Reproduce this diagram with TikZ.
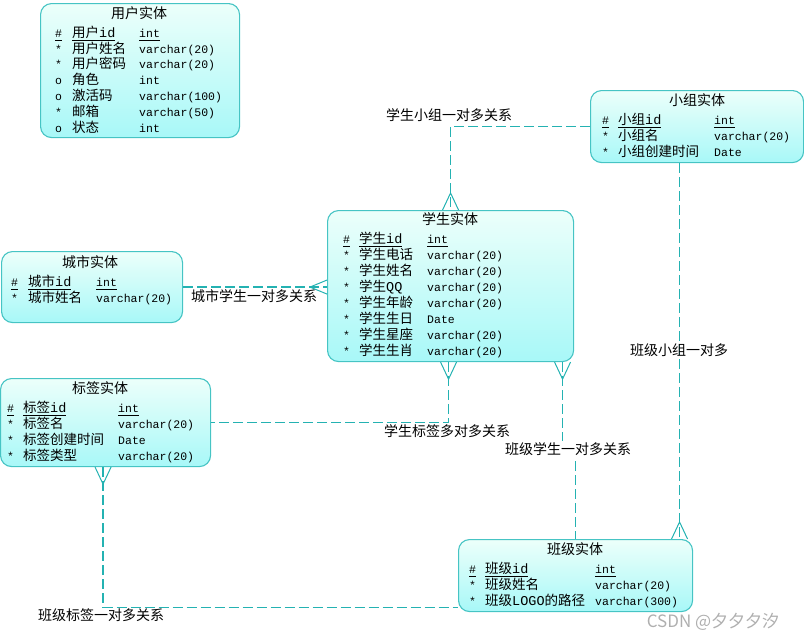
\documentclass[tikz,border=0pt]{standalone}
\usepackage{fontspec}
\setmainfont{Liberation Sans}
\newfontfamily\cjk{Noto Sans CJK SC}
\newfontfamily\mono{Liberation Mono}
\usetikzlibrary{calc}

\definecolor{boxedge}{RGB}{70,196,196}
\definecolor{boxtop}{RGB}{236,255,250}
\definecolor{boxbot}{RGB}{168,248,248}
\definecolor{linkc}{RGB}{36,178,178}
\definecolor{wmgray}{RGB}{175,175,175}

\tikzset{
  entity/.style={draw=boxedge, line width=1.1pt, rounded corners=11pt,
    top color=boxtop, bottom color=boxbot, anchor=north west, inner sep=0pt},
  ttl/.style={font=\cjk\fontsize{14}{14}\selectfont, inner sep=0pt},
  fmark/.style={font=\mono\fontsize{11.5}{12}\selectfont, inner sep=0pt, anchor=base west},
  fname/.style={font=\cjk\fontsize{13.5}{14}\selectfont, inner sep=0pt, anchor=base west},
  ftype/.style={font=\mono\fontsize{11.5}{12}\selectfont, inner sep=0pt, anchor=base west},
  rel/.style={draw=linkc, line width=1.2pt, dash pattern=on 10pt off 4pt},
  foot/.style={draw=linkc, line width=1pt},
  lbl/.style={font=\cjk\fontsize{14}{14}\selectfont, inner sep=1pt},
}

% underline for key fields
\newcommand\ul[1]{\underline{#1\vrule width 0pt depth 1.5pt}}
\newcommand\asc[1]{{\mono #1}}
% one attribute row: name, row centre, mark, field, type
\newcommand\erow[5]{%
  \node[fmark] (#1-m) at (\xm,#2+5) {#3};
  \node[fname] (#1-n) at (\xn,#2+5) {#4};
  \node[ftype] (#1-t) at (\xt,#2+5) {#5};}
% crow's feet: apex above / below / left of the edge point
\newcommand\footfromabove[1]{\draw[foot] ([yshift=17pt]#1) -- ([xshift=-8pt]#1) ([yshift=17pt]#1) -- ([xshift=8pt]#1);}
\newcommand\footfrombelow[1]{\draw[foot] ([yshift=-17pt]#1) -- ([xshift=-8pt]#1) ([yshift=-17pt]#1) -- ([xshift=8pt]#1);}
\newcommand\footfromleft[1]{\draw[foot] ([xshift=-17pt]#1) -- ([yshift=-7pt]#1) ([xshift=-17pt]#1) -- ([yshift=7pt]#1);}

\begin{document}
\begin{tikzpicture}[x=1pt,y=-1pt]
\useasboundingbox (0,0) rectangle (804,641);

% ---- entities ----
\node[entity, minimum width=199pt, minimum height=134pt] (user) at (40,3) {};
\node[ttl] (user-title) at (139,13) {用户实体};
\def\xm{55}\def\xn{72}\def\xt{139}
\erow{u1}{32}{\ul{\#}}{\ul{用户\asc{id}}}{\ul{int}}
\erow{u2}{48}{*}{用户姓名}{varchar(20)}
\erow{u3}{63}{*}{用户密码}{varchar(20)}
\erow{u4}{79}{o}{角色}{int}
\erow{u5}{95}{o}{激活码}{varchar(100)}
\erow{u6}{111}{*}{邮箱}{varchar(50)}
\erow{u7}{127}{o}{状态}{int}

\node[entity, minimum width=213pt, minimum height=72pt] (group) at (590,90) {};
\node[ttl] (group-title) at (697,100) {小组实体};
\def\xm{602}\def\xn{618}\def\xt{714}
\erow{g1}{119}{\ul{\#}}{\ul{小组\asc{id}}}{\ul{int}}
\erow{g2}{135}{*}{小组名}{varchar(20)}
\erow{g3}{151}{*}{小组创建时间}{Date}

\node[entity, minimum width=246pt, minimum height=151pt] (student) at (327,210) {};
\node[ttl] (student-title) at (450,219) {学生实体};
\def\xm{343}\def\xn{359}\def\xt{427}
\erow{s1}{238}{\ul{\#}}{\ul{学生\asc{id}}}{\ul{int}}
\erow{s2}{254}{*}{学生电话}{varchar(20)}
\erow{s3}{270}{*}{学生姓名}{varchar(20)}
\erow{s4}{286}{*}{学生\asc{QQ}}{varchar(20)}
\erow{s5}{302}{*}{学生年龄}{varchar(20)}
\erow{s6}{318}{*}{学生生日}{Date}
\erow{s7}{334}{*}{学生星座}{varchar(20)}
\erow{s8}{350}{*}{学生生肖}{varchar(20)}

\node[entity, minimum width=181pt, minimum height=71pt] (city) at (1,251) {};
\node[ttl] (city-title) at (90,262) {城市实体};
\def\xm{11}\def\xn{28}\def\xt{96}
\erow{c1}{281}{\ul{\#}}{\ul{城市\asc{id}}}{\ul{int}}
\erow{c2}{297}{*}{城市姓名}{varchar(20)}

\node[entity, minimum width=210pt, minimum height=88pt] (tag) at (0,378) {};
\node[ttl] (tag-title) at (100,388) {标签实体};
\def\xm{7}\def\xn{23}\def\xt{118}
\erow{t1}{407}{\ul{\#}}{\ul{标签\asc{id}}}{\ul{int}}
\erow{t2}{423}{*}{标签名}{varchar(20)}
\erow{t3}{439}{*}{标签创建时间}{Date}
\erow{t4}{455}{*}{标签类型}{varchar(20)}

\node[entity, minimum width=234pt, minimum height=72pt] (class) at (458,539) {};
\node[ttl] (class-title) at (575,549) {班级实体};
\def\xm{469}\def\xn{485}\def\xt{595}
\erow{k1}{568}{\ul{\#}}{\ul{班级\asc{id}}}{\ul{int}}
\erow{k2}{584}{*}{班级姓名}{varchar(20)}
\erow{k3}{600}{*}{班级\asc{LOGO}的路径}{varchar(300)}

% ---- relationships ----
% group -- student
\draw[rel] (group.west) -| (student.north);
\footfromabove{student.north}
\node[lbl] (lsg) at (449,115) {学生小组一对多关系};

% city -- student
\coordinate (cityst) at (city.east -| student.west);
\draw[rel] (city.east) -- (cityst);
\footfromleft{cityst}
\node[lbl] (lcs) at (254,296) {城市学生一对多关系};

% student -- tag
\coordinate (sttag) at ([xshift=-2pt]student.south);
\draw[rel] (sttag) |- (tag.east);
\footfrombelow{sttag}
\node[lbl] (lst) at (447,431) {学生标签多对多关系};

% student -- class
\coordinate (stcls) at ([xshift=112pt]student.south);
\draw[rel] (stcls) -- ++(0,88) -| (class.north);
\footfrombelow{stcls}
\node[lbl, fill=white] (lks) at (568,449) {班级学生一对多关系};

% group -- class
\coordinate (grcls) at ([xshift=-17.5pt]group.south);
\coordinate (clsgr) at (grcls |- class.north);
\draw[rel] (grcls) -- (clsgr);
\footfromabove{clsgr}
\node[lbl] (lkg) at (679,350) {班级小组一对多};

% tag -- class
\coordinate (tagcls) at ([xshift=-2.5pt]tag.south);
\coordinate (clstag) at ([yshift=-32pt]class.west);
\draw[rel] (tagcls) |- (clstag);
\footfrombelow{tagcls}
\node[lbl] (lkt) at (101,615) {班级标签一对多关系};

\node[font=\cjk\fontsize{17}{17}\selectfont, text=wmgray, inner sep=0pt] (wm) at (713,622) {CSDN @夕夕夕汐};
\end{tikzpicture}
\end{document}
